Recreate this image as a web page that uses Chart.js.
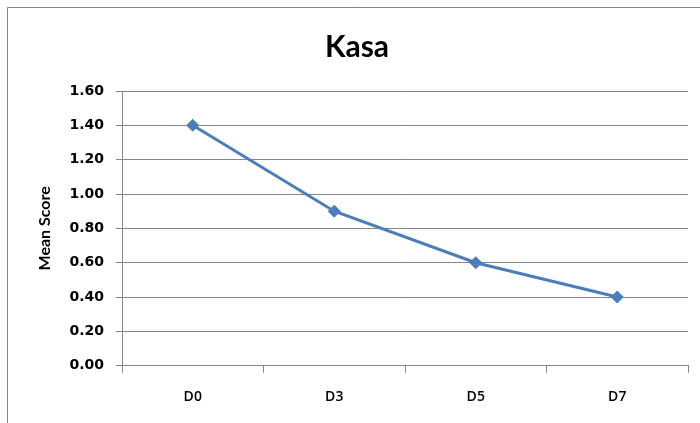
<!DOCTYPE html>
<html>
<head>
<meta charset="utf-8">
<script src="https://cdn.jsdelivr.net/npm/chart.js@4/dist/chart.umd.min.js"></script>
<style>
  html, body { margin: 0; padding: 0; background: #ffffff; }
  #wrap { width: 700px; height: 423px; position: relative; }
</style>
</head>
<body>
<div id="wrap"><canvas id="c" width="700" height="423"></canvas></div>
<script>
const categories = ['D0', 'D3', 'D5', 'D7'];
const meanScores = [1.40, 0.90, 0.60, 0.40];
const yTicks = [0.00, 0.20, 0.40, 0.60, 0.80, 1.00, 1.20, 1.40, 1.60];
const chartTitle = 'Kasa';
const yTitle = 'Mean Score';

const GRID = '#868686';
const LINE = '#4A7EBB';

const framePlugin = {
  id: 'frame',
  beforeDraw(chart) {
    const ctx = chart.ctx;
    ctx.save();
    ctx.fillStyle = '#ffffff';
    ctx.fillRect(0, 0, chart.width, chart.height);
    ctx.strokeStyle = GRID;
    ctx.lineWidth = 1;
    ctx.beginPath();
    ctx.moveTo(7.5, chart.height);
    ctx.lineTo(7.5, 7.5);
    ctx.lineTo(chart.width, 7.5);
    ctx.stroke();
    ctx.restore();
  }
};

new Chart(document.getElementById('c'), {
  type: 'line',
  data: {
    labels: categories,
    datasets: [{
      data: meanScores,
      borderColor: LINE,
      backgroundColor: LINE,
      borderWidth: 3,
      pointStyle: 'rectRot',
      pointRadius: 6,
      pointBorderWidth: 1,
      pointBackgroundColor: LINE,
      pointBorderColor: LINE,
      tension: 0,
      fill: false
    }]
  },
  options: {
    responsive: false,
    animation: false,
    layout: { padding: { left: 26, right: 12, top: 0, bottom: 0 } },
    plugins: {
      legend: { display: false },
      tooltip: { enabled: false },
      title: {
        display: true,
        text: chartTitle,
        color: '#000000',
        font: { family: 'Lato', size: 30, weight: 'bold', lineHeight: 1.0 },
        padding: { top: 32, bottom: 29 }
      }
    },
    scales: {
      x: {
        type: 'category',
        offset: true,
        grid: {
          display: true,
          drawOnChartArea: false,
          drawTicks: true,
          tickLength: 7,
          color: GRID,
          offset: true
        },
        border: { display: true, color: GRID, width: 1 },
        ticks: {
          color: '#000000',
          padding: 16,
          font: { family: 'Open Sans', size: 14, weight: '600' }
        },
        afterFit(scale) { scale.height = 57.3; }
      },
      y: {
        min: 0,
        max: 1.6,
        afterBuildTicks(scale) { scale.ticks = yTicks.map(v => ({ value: v })); },
        grid: {
          color: GRID,
          drawTicks: true,
          tickLength: 6
        },
        border: { display: true, color: GRID, width: 1 },
        ticks: {
          color: '#000000',
          padding: 12,
          font: { family: 'DejaVu Sans', size: 14, weight: 'bold' },
          callback(v) { return Number(v).toFixed(2); }
        },
        title: {
          display: true,
          text: yTitle,
          color: '#000000',
          font: { family: 'Lato', size: 16, weight: 'bold', lineHeight: 1.2 },
          padding: { top: 9.5, bottom: 0 }
        },
        afterFit(scale) { scale.width = 96; }
      }
    }
  },
  plugins: [framePlugin]
});
</script>
</body>
</html>
